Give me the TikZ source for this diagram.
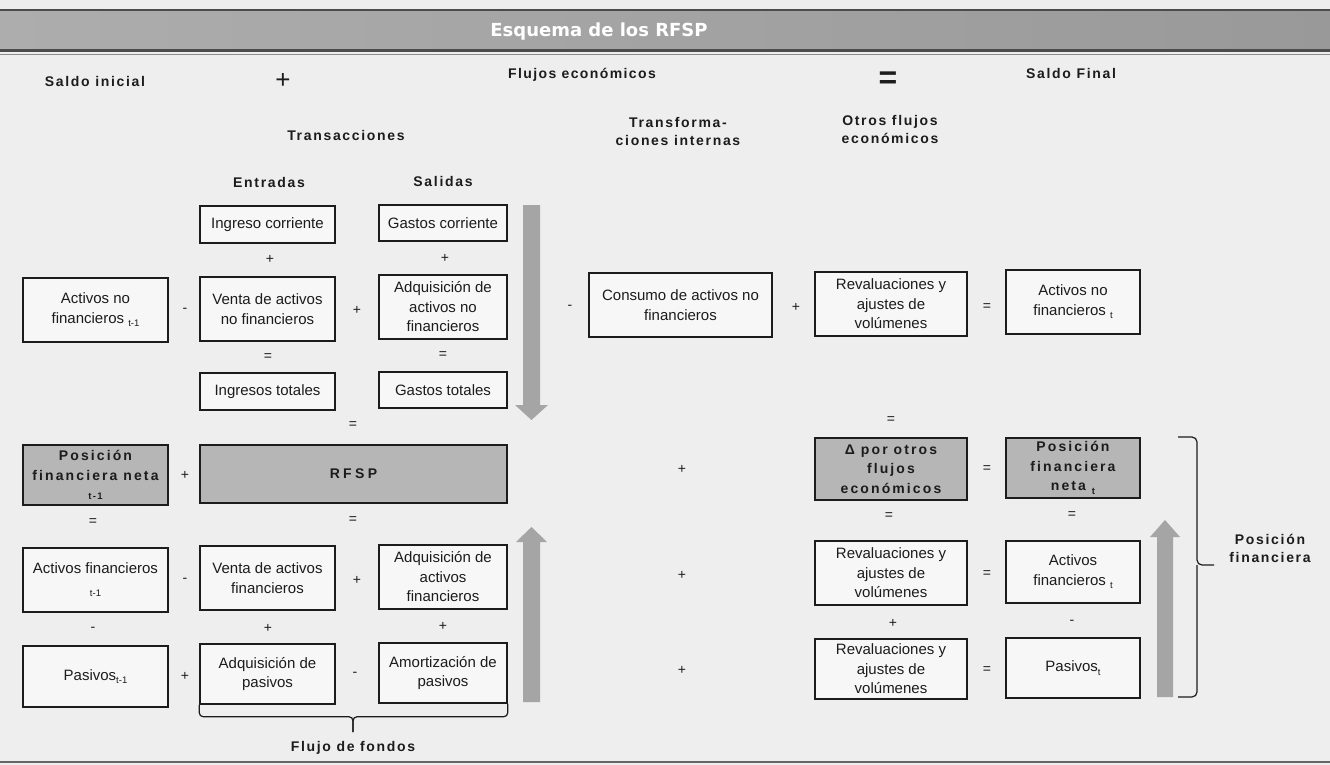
\documentclass[tikz,border=0pt]{standalone}
\usepackage{fontspec}
\setmainfont{Liberation Sans}
\newfontfamily\hdrfont{Liberation Sans}[LetterSpace=12]
\newfontfamily\hdrfontB{Liberation Sans}[LetterSpace=10]
\newfontfamily\boxbold{Liberation Sans}[LetterSpace=15]
\newfontfamily\rfspfont{Liberation Sans}[LetterSpace=24]
\newfontfamily\titlefont{DejaVu Sans}
\definecolor{bg}{HTML}{EEEEEE}
\definecolor{ink}{HTML}{1C1C1C}
\definecolor{boxgray}{HTML}{B6B6B6}
\definecolor{arrowgray}{HTML}{A5A5A5}
\definecolor{bandL}{HTML}{ADADAD}
\definecolor{bandR}{HTML}{999999}
\newcommand{\sbs}[1]{\raisebox{-0.45ex}{\fontsize{9.5}{9.5}\selectfont #1}}
\begin{document}
\begin{tikzpicture}[x=1pt,y=-1pt,
  bx/.style={draw=ink, line width=1.5pt, inner sep=0pt, align=center, text=ink,
    font=\fontsize{15}{19.5}\selectfont, fill=white!55!bg},
  gbx/.style={bx, fill=boxgray, font=\boxbold\bfseries\fontsize{14}{19.5}\selectfont},
  op/.style={text=ink, font=\fontsize{14}{14}\selectfont, inner sep=0pt},
  hdr/.style={text=ink, font=\hdrfont\bfseries\fontsize{14}{18}\selectfont, align=center, inner sep=0pt},
  brc/.style={draw=ink, line width=1.2pt, rounded corners=4pt},
  bigarrow/.style={fill=arrowgray}
]
\useasboundingbox (0,0) rectangle (1330,765);
\fill[bg] (0,0) rectangle (1330,765);
% header band
\shade[left color=bandL, right color=bandR] (0,12) rectangle (1330,49);
\draw[line width=2.5pt, black!70] (0,10) -- (1330,10);
\draw[line width=2.5pt, black!70] (0,50.5) -- (1330,50.5);
\draw[line width=1pt, black!45] (0,55) -- (1330,55);
\draw[line width=2pt, black!60] (0,762) -- (1330,762);
\node[font=\titlefont\bfseries\fontsize{18}{18}\selectfont, text=white, inner sep=0pt] (title) at (599,32) {Esquema de los RFSP};

% header labels
\node[hdr] (saldoi) at (95,81) {Saldo inicial};
\node[font=\fontsize{26}{26}\selectfont, text=ink, inner sep=0pt] (plusH) at (283,81) {+};
\node[hdr, font=\hdrfontB\bfseries\fontsize{14}{18}\selectfont] (flujos) at (582,75) {Flujos económicos};
\node[font=\bfseries\fontsize{32}{32}\selectfont, text=ink, inner sep=0pt] (eqH) at (888,80) {=};
\node[hdr] (saldof) at (1071,73) {Saldo Final};
\node[hdr] (trans) at (346,135) {Transacciones};
\node[hdr] (transf) at (678,131) {Transforma-\\ciones internas};
\node[hdr] (otros) at (890,129) {Otros flujos\\económicos};
\node[hdr] (entr) at (269,182) {Entradas};
\node[hdr] (sal) at (443,181) {Salidas};

% left: transactions
\node[bx, minimum width=135, minimum height=37] (ingc) at (267.5,224.5) {Ingreso corriente};
\node[bx, minimum width=128, minimum height=36] (gasc) at (443,223) {Gastos corriente};
\node[op] (o1) at (270,259) {+};
\node[op] (o2) at (445,258) {+};
\node[bx, minimum width=145, minimum height=64] (anf0) at (95.5,310) {Activos no\\financieros \sbs{t-1}};
\node[op] (o3) at (185,310) {-};
\node[bx, minimum width=135, minimum height=64] (vanf) at (267.5,309) {Venta de activos\\no financieros};
\node[op] (o4) at (357,310) {+};
\node[bx, minimum width=128, minimum height=64] (aanf) at (443,307) {Adquisición de\\activos no\\financieros};
\node[op] (o5) at (268,357) {=};
\node[op] (o6) at (443,355) {=};
\node[bx, minimum width=135, minimum height=37] (ingt) at (267.5,391.5) {Ingresos totales};
\node[bx, minimum width=128, minimum height=36] (gast) at (443,390) {Gastos totales};
\node[op] (o7) at (353,425) {=};
\node[gbx, minimum width=145, minimum height=60] (pfn0) at (95.5,475) {Posición\\financiera neta\\[-4pt]\sbs{t-1}};
\node[op] (o8) at (185,475) {+};
\node[gbx, font=\rfspfont\bfseries\fontsize{14}{18}\selectfont, minimum width=307, minimum height=58] (rfsp) at (353.5,474) {RFSP};
\node[op] (o9) at (93,522) {=};
\node[op] (o10) at (353,520) {=};
\node[bx, minimum width=145, minimum height=64] (af0) at (95.5,580) {Activos financieros\\\sbs{t-1}};
\node[op] (o11) at (185,580) {-};
\node[bx, minimum width=135, minimum height=64] (vaf) at (267.5,578) {Venta de activos\\financieros};
\node[op] (o12) at (357,580) {+};
\node[bx, minimum width=128, minimum height=64] (aaf) at (443,577) {Adquisición de\\activos\\financieros};
\node[op] (o13) at (93,629) {-};
\node[op] (o14) at (268,628) {+};
\node[op] (o15) at (443,626) {+};
\node[bx, minimum width=145, minimum height=61] (pas0) at (95.5,676.5) {Pasivos\sbs{t-1}};
\node[op] (o16) at (185,676) {+};
\node[bx, minimum width=135, minimum height=60] (adqp) at (267.5,674) {Adquisición de\\pasivos};
\node[op] (o17) at (355,674) {-};
\node[bx, minimum width=128, minimum height=60] (amop) at (443,673) {Amortización de\\pasivos};
\draw[brc] (adqp.south west) -- ++(0,12) -| (353,732);
\draw[brc] (amop.south east) -- ++(0,13) -| (353,732);
\node[hdr] (fondos) at (353,748) {Flujo de fondos};

% big arrows
\fill[bigarrow] (523,205) -- (540,205) -- (540,405) -- (548,405) -- (531.5,420) -- (515,405) -- (523,405) -- cycle;
\fill[bigarrow] (523,702) -- (540,702) -- (540,542) -- (547,542) -- (531.5,527) -- (516,542) -- (523,542) -- cycle;
\fill[bigarrow] (1157,697) -- (1173,697) -- (1173,537) -- (1180,537) -- (1165,520) -- (1150,537) -- (1157,537) -- cycle;

% middle and right
\node[op] (o18) at (570,307) {-};
\node[bx, minimum width=183, minimum height=64] (cons) at (680.5,305) {Consumo de activos no\\financieros};
\node[op] (o19) at (796,307) {+};
\node[bx, minimum width=152, minimum height=64] (rev1) at (891,304) {Revaluaciones y\\ajustes de\\volúmenes};
\node[op] (o20) at (987,307) {=};
\node[bx, minimum width=134, minimum height=64] (anft) at (1073,302) {Activos no\\financieros \sbs{t}};
\node[op] (o21) at (891,420) {=};
\node[op] (o22) at (682,469) {+};
\node[gbx, minimum width=152, minimum height=62] (dpo) at (891,469) {Δ por otros\\flujos\\económicos};
\node[op] (o23) at (987,469) {=};
\node[gbx, minimum width=134, minimum height=60] (pfnt) at (1073,468) {Posición\\financiera\\neta \sbs{t}};
\node[op] (o24) at (889,516) {=};
\node[op] (o25) at (1072,515) {=};
\node[op] (o26) at (682,575) {+};
\node[bx, minimum width=152, minimum height=64] (rev2) at (891,573) {Revaluaciones y\\ajustes de\\volúmenes};
\node[op] (o27) at (987,574) {=};
\node[bx, minimum width=134, minimum height=62] (aft) at (1073,572) {Activos\\financieros \sbs{t}};
\node[op] (o28) at (893,623) {+};
\node[op] (o29) at (1072,622) {-};
\node[op] (o30) at (682,670) {+};
\node[bx, minimum width=152, minimum height=60] (rev3) at (891,669) {Revaluaciones y\\ajustes de\\volúmenes};
\node[op] (o31) at (987,670) {=};
\node[bx, minimum width=134, minimum height=60] (past) at (1073,668) {Pasivos\sbs{t}};

% right brace
\draw[brc, rounded corners=5pt] (1178,437) -- (1197,437) -- (1197,565) -- (1214,565);
\draw[brc, rounded corners=5pt] (1178,697) -- (1197,697) -- (1197,565);
\node[hdr] (posf) at (1270,548) {Posición\\financiera};
\end{tikzpicture}
\end{document}
